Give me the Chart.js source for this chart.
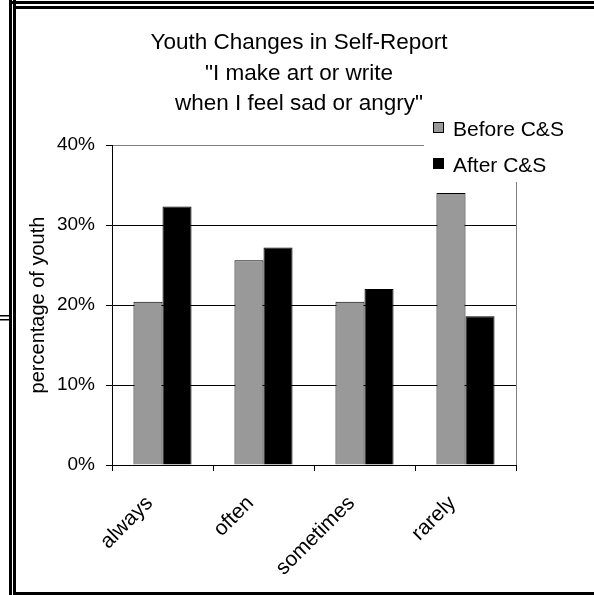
<!DOCTYPE html>
<html>
<head>
<meta charset="utf-8">
<script src="https://cdn.jsdelivr.net/npm/chart.js@4/dist/chart.umd.min.js"></script>
<style>
  html, body { margin: 0; padding: 0; background: #fff; }
  #wrap { width: 594px; height: 595px; position: relative; }
</style>
</head>
<body>
<div id="wrap"><canvas id="c" width="594" height="595"></canvas></div>
<script>
const categories = ['always', 'often', 'sometimes', 'rarely'];
const beforeValues = [20.4, 25.6, 20.4, 34.0];
const afterValues = [32.3, 27.2, 22.0, 18.6];
const seriesNames = ['Before C&S', 'After C&S'];
const yTickValues = [0, 10, 20, 30, 40];
const titleLines = ['Youth Changes in Self-Report', '"I make art or write', 'when I feel sad or angry"'];
const yAxisTitle = 'percentage of youth';

const FONT = '"Liberation Sans", Arial, sans-serif';

// Frame, heading and legend drawn around the plot
const decorations = {
  id: 'decorations',
  afterDraw(chart) {
    const ctx = chart.ctx;
    const area = chart.chartArea;
    ctx.save();

    // plot-area edge on the right
    ctx.strokeStyle = '#808080';
    ctx.lineWidth = 1;
    ctx.beginPath();
    ctx.moveTo(Math.round(area.right) + 0.5, area.top);
    ctx.lineTo(Math.round(area.right) + 0.5, area.bottom);
    ctx.stroke();

    // heading
    ctx.fillStyle = '#000';
    ctx.font = '22.5px ' + FONT;
    ctx.textAlign = 'center';
    ctx.textBaseline = 'alphabetic';
    titleLines.forEach((t, i) => ctx.fillText(t, 299, 49 + i * 30.5));

    // legend with white backing
    ctx.fillStyle = '#fff';
    ctx.fillRect(424, 112, 160, 70);
    const colors = chart.data.datasets.map(d => d.backgroundColor);
    ctx.font = '21px ' + FONT;
    ctx.textAlign = 'left';
    chart.data.datasets.forEach((d, i) => {
      const y = 122 + i * 36;
      ctx.fillStyle = colors[i];
      ctx.fillRect(433, y, 11, 11);
      ctx.strokeStyle = '#000';
      ctx.lineWidth = 1;
      ctx.strokeRect(433.5, y + 0.5, 10, 10);
      ctx.fillStyle = '#000';
      ctx.fillText(d.label, 453, y + 14);
    });

    // page frame
    ctx.fillStyle = '#000';
    ctx.fillRect(9, 0, 3, 595);
    ctx.fillRect(13, 0, 3, 595);
    ctx.fillRect(12, 1, 582, 3);
    ctx.fillRect(16, 6, 578, 3);
    ctx.fillRect(16, 592, 578, 3);
    ctx.fillRect(0, 315, 12, 1.5);
    ctx.fillRect(0, 319, 12, 1.5);
    ctx.restore();
  }
};

new Chart(document.getElementById('c'), {
  type: 'bar',
  data: {
    labels: categories,
    datasets: [
      { label: seriesNames[0], data: beforeValues, backgroundColor: '#999999', borderColor: '#000', borderWidth: 1 },
      { label: seriesNames[1], data: afterValues, backgroundColor: '#000000', borderColor: '#000', borderWidth: 1 }
    ]
  },
  options: {
    responsive: false,
    animation: false,
    layout: { padding: { top: 145, right: 78, left: 0, bottom: 0 } },
    plugins: { legend: { display: false }, title: { display: false }, tooltip: { enabled: false } },
    datasets: { bar: { categoryPercentage: 0.575, barPercentage: 1.0, borderSkipped: 'start' } },
    scales: {
      x: {
        afterFit(scale) { scale.height = 130; },
        grid: { display: true, drawOnChartArea: false, drawTicks: true, tickLength: 6, color: '#000', offset: true },
        border: { display: true, color: '#000', width: 1 },
        ticks: { minRotation: 45, maxRotation: 45, color: '#000', font: { family: FONT, size: 21 }, padding: 20, labelOffset: -13 }
      },
      y: {
        min: 0,
        max: 40,
        afterFit(scale) { scale.width = 112; },
        afterBuildTicks(scale) { scale.ticks = yTickValues.map(v => ({ value: v })); },
        grid: {
          color: c => (c.tick && c.tick.value === 40) ? '#808080' : '#000',
          tickColor: '#000',
          tickLength: 6,
          lineWidth: 1
        },
        border: { display: true, color: '#000', width: 1 },
        ticks: { color: '#000', font: { family: FONT, size: 19 }, padding: 11, callback: v => v + '%' },
        title: { display: true, text: yAxisTitle, color: '#000', font: { family: FONT, size: 20 }, padding: { top: 26, bottom: 0 } }
      }
    }
  },
  plugins: [decorations]
});
</script>
</body>
</html>
